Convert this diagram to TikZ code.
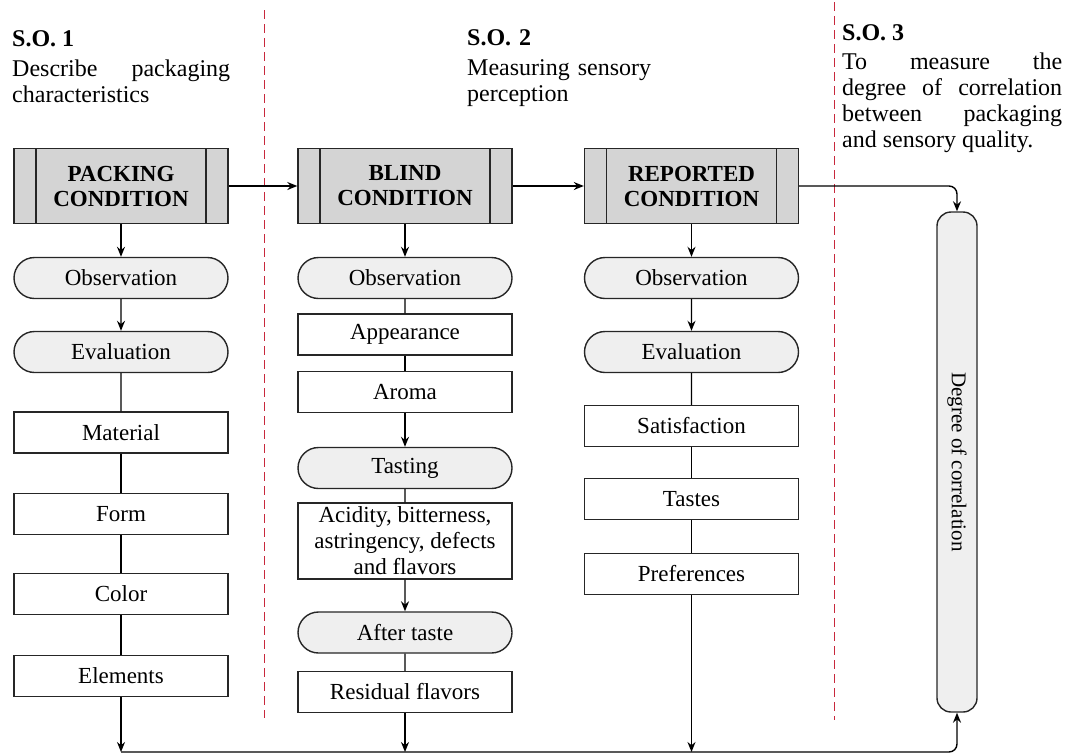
\documentclass[tikz,border=0pt]{standalone}
\usepackage{fontspec}
\setmainfont{Liberation Serif}
\usetikzlibrary{arrows.meta,shapes.misc}
\definecolor{hdrgray}{HTML}{D4D4D4}
\definecolor{pillgray}{HTML}{EFEFEF}
\definecolor{sepred}{HTML}{C8283C}
\tikzset{
  base/.style={draw=black!85, line width=1.4pt, minimum width=214pt, inner sep=0pt,
    font=\fontsize{23}{26}\selectfont, align=center},
  hdr/.style={base, fill=hdrgray, minimum height=75pt,
    font=\fontsize{23}{25}\selectfont\bfseries,
    path picture={
      \draw[line width=1.4pt] ([xshift=22pt]path picture bounding box.north west)
        -- ([xshift=22pt]path picture bounding box.south west);
      \draw[line width=1.4pt] ([xshift=-22pt]path picture bounding box.north east)
        -- ([xshift=-22pt]path picture bounding box.south east);}},
  pill/.style={base, rounded rectangle, fill=pillgray, minimum height=41pt},
  item/.style={base, rectangle, minimum height=41pt},
  degbox/.style={draw=black!85, line width=1.4pt, fill=pillgray, rounded corners=14pt,
    minimum width=500pt, minimum height=40pt, inner sep=0pt,
    font=\fontsize{21}{24}\selectfont},
  goal/.style={anchor=north west, inner sep=0pt, align=justify,
    font=\fontsize{24}{26}\selectfont},
  arr/.style={-{Stealth[length=10pt,width=8pt]}, line width=1.4pt},
  lnk/.style={line width=1.4pt},
  sep/.style={draw=sepred, line width=1pt, dash pattern=on 9pt off 5pt},
}
\begin{document}
\begin{tikzpicture}[x=1pt, y=-1pt]
\useasboundingbox (0,0) rectangle (1068,755);
% objectives
\node[goal, text width=218pt] (so1) at (12, 30) {\textbf{S.O. 1}\\[4pt]Describe packaging characteristics};
\node[goal, text width=200pt, align=left] (so2) at (467, 29) {\textbf{S.O. 2}\\[4pt]Measuring sensory\\perception};
\node[goal, text width=220pt] (so3) at (842, 24) {\textbf{S.O. 3}\\[3pt]To measure the\linebreak degree of correlation\linebreak between packaging\linebreak and sensory quality.};
\draw[sep] (264, 10) -- (264, 718);
\draw[sep] (834, 2) -- (834, 720);
% column 1
\node[hdr] (pack) at (121, 186) {PACKING\\CONDITION};
\node[pill] (obs1) at (121, 278) {Observation};
\node[pill] (eval1) at (121, 352) {Evaluation};
\node[item] (mat) at (121, 432.5) {Material};
\node[item] (form) at (121, 514) {Form};
\node[item] (color) at (121, 594) {Color};
\node[item] (elem) at (121, 676) {Elements};
% column 2
\node[hdr] (blind) at (405, 186) {BLIND\\CONDITION};
\node[pill] (obs2) at (405, 278) {Observation};
\node[item] (app) at (405, 334.5) {Appearance};
\node[item] (aroma) at (405, 392) {Aroma};
\node[pill] (tast) at (405, 468) {Tasting};
\node[item, minimum height=76pt] (acid) at (405, 541) {Acidity, bitterness,\\astringency, defects\\and flavors};
\node[pill] (after) at (405, 632.5) {After taste};
\node[item] (resid) at (405, 692) {Residual flavors};
% column 3
\node[hdr] (rep) at (691.5, 186) {REPORTED\\CONDITION};
\node[pill] (obs3) at (691.5, 278) {Observation};
\node[pill] (eval3) at (691.5, 352) {Evaluation};
\node[item] (satis) at (691.5, 426) {Satisfaction};
\node[item] (tastes) at (691.5, 499) {Tastes};
\node[item] (pref) at (691.5, 574) {Preferences};
% correlation
\node[degbox, rotate=-90] (deg) at (957, 462) {Degree of correlation};
\coordinate (b1) at (121, 752);
\coordinate (b2) at (405, 752);
\coordinate (b3) at (691.5, 752);
% connectors
\foreach \a/\b in {pack/obs1, obs1/eval1, blind/obs2, aroma/tast, acid/after, rep/obs3, obs3/eval3}
  \draw[arr] (\a) -- (\b);
\foreach \a/\b in {eval1/mat, mat/form, form/color, color/elem, obs2/app, app/aroma, tast/acid, after/resid, eval3/satis, satis/tastes, tastes/pref}
  \draw[lnk] (\a) -- (\b);
\draw[arr] (pack) -- (blind);
\draw[arr] (blind) -- (rep);
\draw[arr, rounded corners=8pt] (rep) -- (rep -| deg.west) -- (deg.west);
\draw[arr] (elem) -- (b1);
\draw[arr] (resid) -- (b2);
\draw[arr] (pref) -- (b3);
\draw[arr, rounded corners=8pt] (b1) -- (deg.east |- b1) -- (deg.east);
\end{tikzpicture}
\end{document}
